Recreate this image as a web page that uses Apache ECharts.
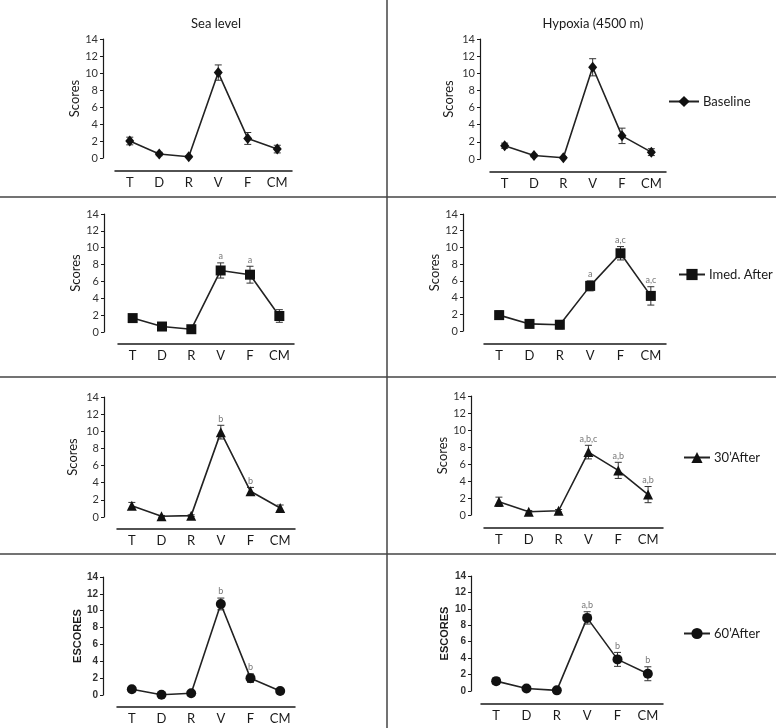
<!DOCTYPE html>
<html>
<head>
<meta charset="utf-8">
<script src="https://cdn.jsdelivr.net/npm/echarts@6/dist/echarts.min.js"></script>
<style>
  html, body { margin: 0; padding: 0; background: #fff; }
  #chart { width: 776px; height: 728px; }
</style>
</head>
<body>
<div id="chart"></div>
<script>
  // categories + y ticks
  const categories = ['T', 'D', 'R', 'V', 'F', 'CM']
  const yMin = 0, yMax = 14, yStep = 2

  // means and error (SEM)
  const seaBaseline    = [2.0, 0.47, 0.15, 10.05, 2.3, 1.05]
  const seaBaselineErr = [0.45, 0.2, 0.1, 0.9, 0.7, 0.45]
  const hypBaseline    = [1.55, 0.4, 0.15, 10.7, 2.7, 0.8]
  const hypBaselineErr = [0.3, 0.15, 0.1, 1.0, 0.9, 0.4]

  const seaImed    = [1.65, 0.65, 0.33, 7.3, 6.8, 1.9]
  const seaImedErr = [0.35, 0.15, 0.15, 0.9, 1.0, 0.75]
  const hypImed    = [1.9, 0.85, 0.75, 5.4, 9.3, 4.2]
  const hypImedErr = [0.5, 0.2, 0.5, 0.6, 0.8, 1.1]

  const sea30    = [1.3, 0.08, 0.16, 9.9, 3.0, 1.05]
  const sea30Err = [0.4, 0.1, 0.1, 0.8, 0.45, 0.35]
  const hyp30    = [1.55, 0.38, 0.5, 7.4, 5.25, 2.4]
  const hyp30Err = [0.55, 0.15, 0.15, 0.8, 0.95, 0.95]

  const sea60    = [0.68, 0.03, 0.2, 10.8, 2.0, 0.47]
  const sea60Err = [0.15, 0.05, 0.1, 0.7, 0.5, 0.15]
  const hyp60    = [1.2, 0.3, 0.08, 8.9, 3.85, 2.1]
  const hyp60Err = [0.4, 0.1, 0.05, 0.75, 0.85, 0.85]

  // significance letters
  const noSig      = ['', '', '', '', '', '']
  const seaImedSig = ['', '', '', 'a', 'a', '']
  const hypImedSig = ['', '', '', 'a', 'a,c', 'a,c']
  const sea30Sig   = ['', '', '', 'b', 'b', '']
  const hyp30Sig   = ['', '', '', 'a,b,c', 'a,b', 'a,b']
  const sea60Sig   = ['', '', '', 'b', 'b', '']
  const hyp60Sig   = ['', '', '', 'a,b', 'b', 'b']

  const columnTitles = ['Sea level', 'Hypoxia (4500 m)']
  const legendNames = ['Baseline', 'Imed. After', '30\u2019After', '60\u2019After']
  const symbols = ['diamond', 'rect', 'triangle', 'circle']
  const symbolSizes = [[9, 11], 10, 10, 10]

  const panels = [
    {mean: seaBaseline, err: seaBaselineErr, sig: noSig, row: 0, col: 0},
    {mean: hypBaseline, err: hypBaselineErr, sig: noSig, row: 0, col: 1},
    {mean: seaImed, err: seaImedErr, sig: seaImedSig, row: 1, col: 0},
    {mean: hypImed, err: hypImedErr, sig: hypImedSig, row: 1, col: 1},
    {mean: sea30, err: sea30Err, sig: sea30Sig, row: 2, col: 0},
    {mean: hyp30, err: hyp30Err, sig: hyp30Sig, row: 2, col: 1},
    {mean: sea60, err: sea60Err, sig: sea60Sig, row: 3, col: 0},
    {mean: hyp60, err: hyp60Err, sig: hyp60Sig, row: 3, col: 1},
  ]

  // pixel layout of each panel (grid box, axis offsets, name gap)
  const layout = [
    {l: 115, t: 39, w: 177, h: 119, yOff: 12, xOff: 13, gap: 20},
    {l: 490, t: 39, w: 176, h: 120, yOff: 10, xOff: 13, gap: 25},
    {l: 118, t: 214, w: 176, h: 118, yOff: 14, xOff: 12, gap: 21},
    {l: 484, t: 214, w: 182, h: 117, yOff: 21, xOff: 13, gap: 13},
    {l: 117, t: 397, w: 178, h: 120, yOff: 13, xOff: 12, gap: 25},
    {l: 484, t: 396, w: 179, h: 119, yOff: 13, xOff: 13, gap: 22},
    {l: 117, t: 577, w: 178, h: 118, yOff: 14, xOff: 12, gap: 20},
    {l: 481, t: 576, w: 182, h: 115, yOff: 10, xOff: 13, gap: 21},
  ]
  const legendPos = [
    {left: 668, top: 95, w: 30},
    {left: 678, top: 268, w: 26},
    {left: 683, top: 451, w: 26},
    {left: 683, top: 627, w: 26},
  ]

  const font = 'Lato'
  const ink = '#1a1a1a'

  let myChart = echarts.init(document.getElementById('chart'))

  let grid = [], xAxis = [], yAxis = [], series = []
  panels.forEach((p, i) => {
    const lay = layout[i]
    const bold = p.row === 3
    grid.push({left: lay.l, top: lay.t, width: lay.w, height: lay.h})
    xAxis.push({
      type: 'category',
      gridIndex: i,
      data: categories,
      offset: lay.xOff,
      axisLine: {onZero: false, lineStyle: {color: ink, width: 1.5}},
      axisTick: {alignWithLabel: true, length: 3, lineStyle: {color: ink}},
      axisLabel: {color: ink, fontFamily: font, fontSize: 13, margin: 5},
      splitLine: {show: false}
    })
    yAxis.push({
      type: 'value',
      gridIndex: i,
      min: yMin,
      max: yMax,
      interval: yStep,
      offset: lay.yOff,
      name: bold ? 'ESCORES' : 'Scores',
      nameLocation: 'middle',
      nameGap: lay.gap,
      nameTextStyle: bold
        ? {color: ink, fontFamily: 'Liberation Sans', fontWeight: 'bold', fontSize: 11}
        : {color: ink, fontFamily: font, fontSize: 13},
      axisLine: {show: true, onZero: false, lineStyle: {color: ink, width: 1.2}},
      axisTick: {show: true, length: 3, lineStyle: {color: ink}},
      axisLabel: bold
        ? {color: '#333', fontFamily: 'Liberation Sans', fontWeight: 'bold', fontSize: 10, margin: 5}
        : {color: '#333', fontFamily: font, fontSize: 11, margin: 5},
      splitLine: {show: false}
    })
    const name = p.col === 1 ? legendNames[p.row] : columnTitles[0] + ' ' + legendNames[p.row]
    series.push({
      name: name + ' SEM',
      type: 'custom',
      xAxisIndex: i,
      yAxisIndex: i,
      z: 1,
      silent: true,
      data: p.mean.map((m, k) => [k, m, p.err[k]]),
      renderItem: (params, api) => {
        const k = api.value(0)
        const m = api.value(1)
        const e = api.value(2)
        const top = api.coord([k, m + e])
        const bot = api.coord([k, Math.max(m - e, -0.1)])
        const cap = 3.5
        const st = {stroke: '#333', lineWidth: 1}
        const children = [
          {type: 'line', shape: {x1: top[0], y1: top[1], x2: bot[0], y2: bot[1]}, style: st},
          {type: 'line', shape: {x1: top[0] - cap, y1: top[1], x2: top[0] + cap, y2: top[1]}, style: st},
          {type: 'line', shape: {x1: bot[0] - cap, y1: bot[1], x2: bot[0] + cap, y2: bot[1]}, style: st}
        ]
        const txt = p.sig[params.dataIndex]
        if (txt) {
          children.push({
            type: 'text',
            style: {
              x: top[0], y: top[1] - 2, text: txt,
              align: 'center', verticalAlign: 'bottom',
              fill: '#777', fontSize: 9, fontFamily: font
            }
          })
        }
        return {type: 'group', children: children}
      }
    })
    series.push({
      name: name,
      type: 'line',
      xAxisIndex: i,
      yAxisIndex: i,
      z: 3,
      data: p.mean,
      symbol: symbols[p.row],
      symbolSize: symbolSizes[p.row],
      showAllSymbol: true,
      itemStyle: {color: '#111'},
      lineStyle: {color: '#222', width: 1.6}
    })
  })

  let legend = legendNames.map((n, r) => ({
    data: [n],
    left: legendPos[r].left,
    top: legendPos[r].top,
    padding: 0,
    itemWidth: legendPos[r].w,
    itemHeight: 14,
    itemGap: 0,
    selectedMode: false,
    textStyle: {color: ink, fontFamily: font, fontSize: 13, padding: [0, 0, 0, -1]}
  }))

  let title = [
    {text: columnTitles[0], left: 211, top: 12, textAlign: 'center',
     textStyle: {color: ink, fontFamily: font, fontSize: 13, fontWeight: 'normal'}},
    {text: columnTitles[1], left: 588, top: 12, textAlign: 'center',
     textStyle: {color: ink, fontFamily: font, fontSize: 13, fontWeight: 'normal'}}
  ]

  // table rules between the panels
  const ruleStyle = {stroke: '#444', lineWidth: 1.5}
  let graphic = [
    {type: 'line', shape: {x1: 387, y1: 0, x2: 387, y2: 728}, style: ruleStyle, silent: true},
    {type: 'line', shape: {x1: 0, y1: 197, x2: 776, y2: 197}, style: ruleStyle, silent: true},
    {type: 'line', shape: {x1: 0, y1: 377, x2: 776, y2: 377}, style: ruleStyle, silent: true},
    {type: 'line', shape: {x1: 0, y1: 554, x2: 776, y2: 554}, style: ruleStyle, silent: true}
  ]

  let option = {
    backgroundColor: '#fff',
    animation: false,
    title: title,
    legend: legend,
    grid: grid,
    xAxis: xAxis,
    yAxis: yAxis,
    series: series,
    graphic: graphic
  }
  myChart.setOption(option)
</script>
</body>
</html>
